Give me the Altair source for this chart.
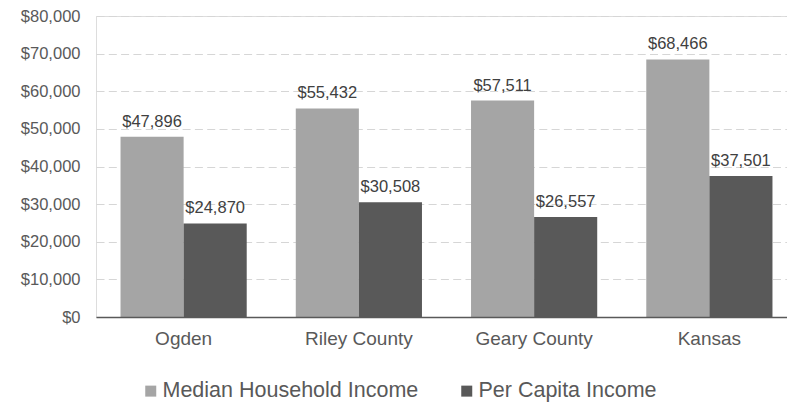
import altair as alt
import pandas as pd

categories = ["Ogden", "Riley County", "Geary County", "Kansas"]
series = ["Median Household Income", "Per Capita Income"]
median_household = [47896, 55432, 57511, 68466]
per_capita = [24870, 30508, 26557, 37501]
colors = ["#a5a5a5", "#595959"]
y_ticks = [0, 10000, 20000, 30000, 40000, 50000, 60000, 70000, 80000]

rows = []
for c, m, p in zip(categories, median_household, per_capita):
    rows.append({"cat": c, "series": series[0], "value": m})
    rows.append({"cat": c, "series": series[1], "value": p})
df = pd.DataFrame(rows)

FONT = "Liberation Sans"

x = alt.X(
    "cat:N",
    sort=categories,
    scale=alt.Scale(paddingInner=0.28, paddingOuter=0.14, range=[0, 701]),
    axis=alt.Axis(
        title=None, labelAngle=0, labelFontSize=19, labelColor="#595959",
        labelPadding=12, ticks=False, domainColor="#595959", domainWidth=1.5,
        grid=False, zindex=1, labelFont=FONT,
    ),
)
y = alt.Y(
    "value:Q",
    scale=alt.Scale(domain=[0, 80000]),
    axis=alt.Axis(
        title=None, values=y_ticks, format="$,.0f", labelFontSize=16.5,
        labelColor="#595959", labelPadding=16, ticks=False, domain=False,
        gridColor="#d6d6d6", gridDash=[8, 4.3], gridWidth=1.2, labelFont=FONT,
    ),
)
color = alt.Color(
    "series:N",
    sort=series,
    scale=alt.Scale(domain=series, range=colors),
    legend=alt.Legend(
        title=None, orient="none", direction="horizontal", legendX=44, legendY=364,
        labelFontSize=21.5, labelColor="#595959", labelFont=FONT, labelLimit=0,
        symbolType="square", symbolSize=121, symbolStrokeWidth=0,
        columnPadding=37, labelOffset=1,
    ),
)

base = alt.Chart(df).encode(
    x=x,
    xOffset=alt.XOffset("series:N", sort=series),
    y=y,
)

bars = base.mark_bar().encode(color=color)
labels = base.mark_text(
    dy=-10, baseline="alphabetic", fontSize=16.5, color="#404040", font=FONT
).encode(text=alt.Text("value:Q", format="$,.0f"))

chart = (
    alt.layer(bars, labels)
    .properties(
        width=691,
        height=301,
        autosize=alt.AutoSizeParams(type="none"),
        padding={"left": 88, "top": 8, "right": 0, "bottom": 86},
    )
    .configure_view(stroke=None)
    .configure(font=FONT)
)

chart.save("out.html", embed_options={"renderer": "svg", "actions": False})
